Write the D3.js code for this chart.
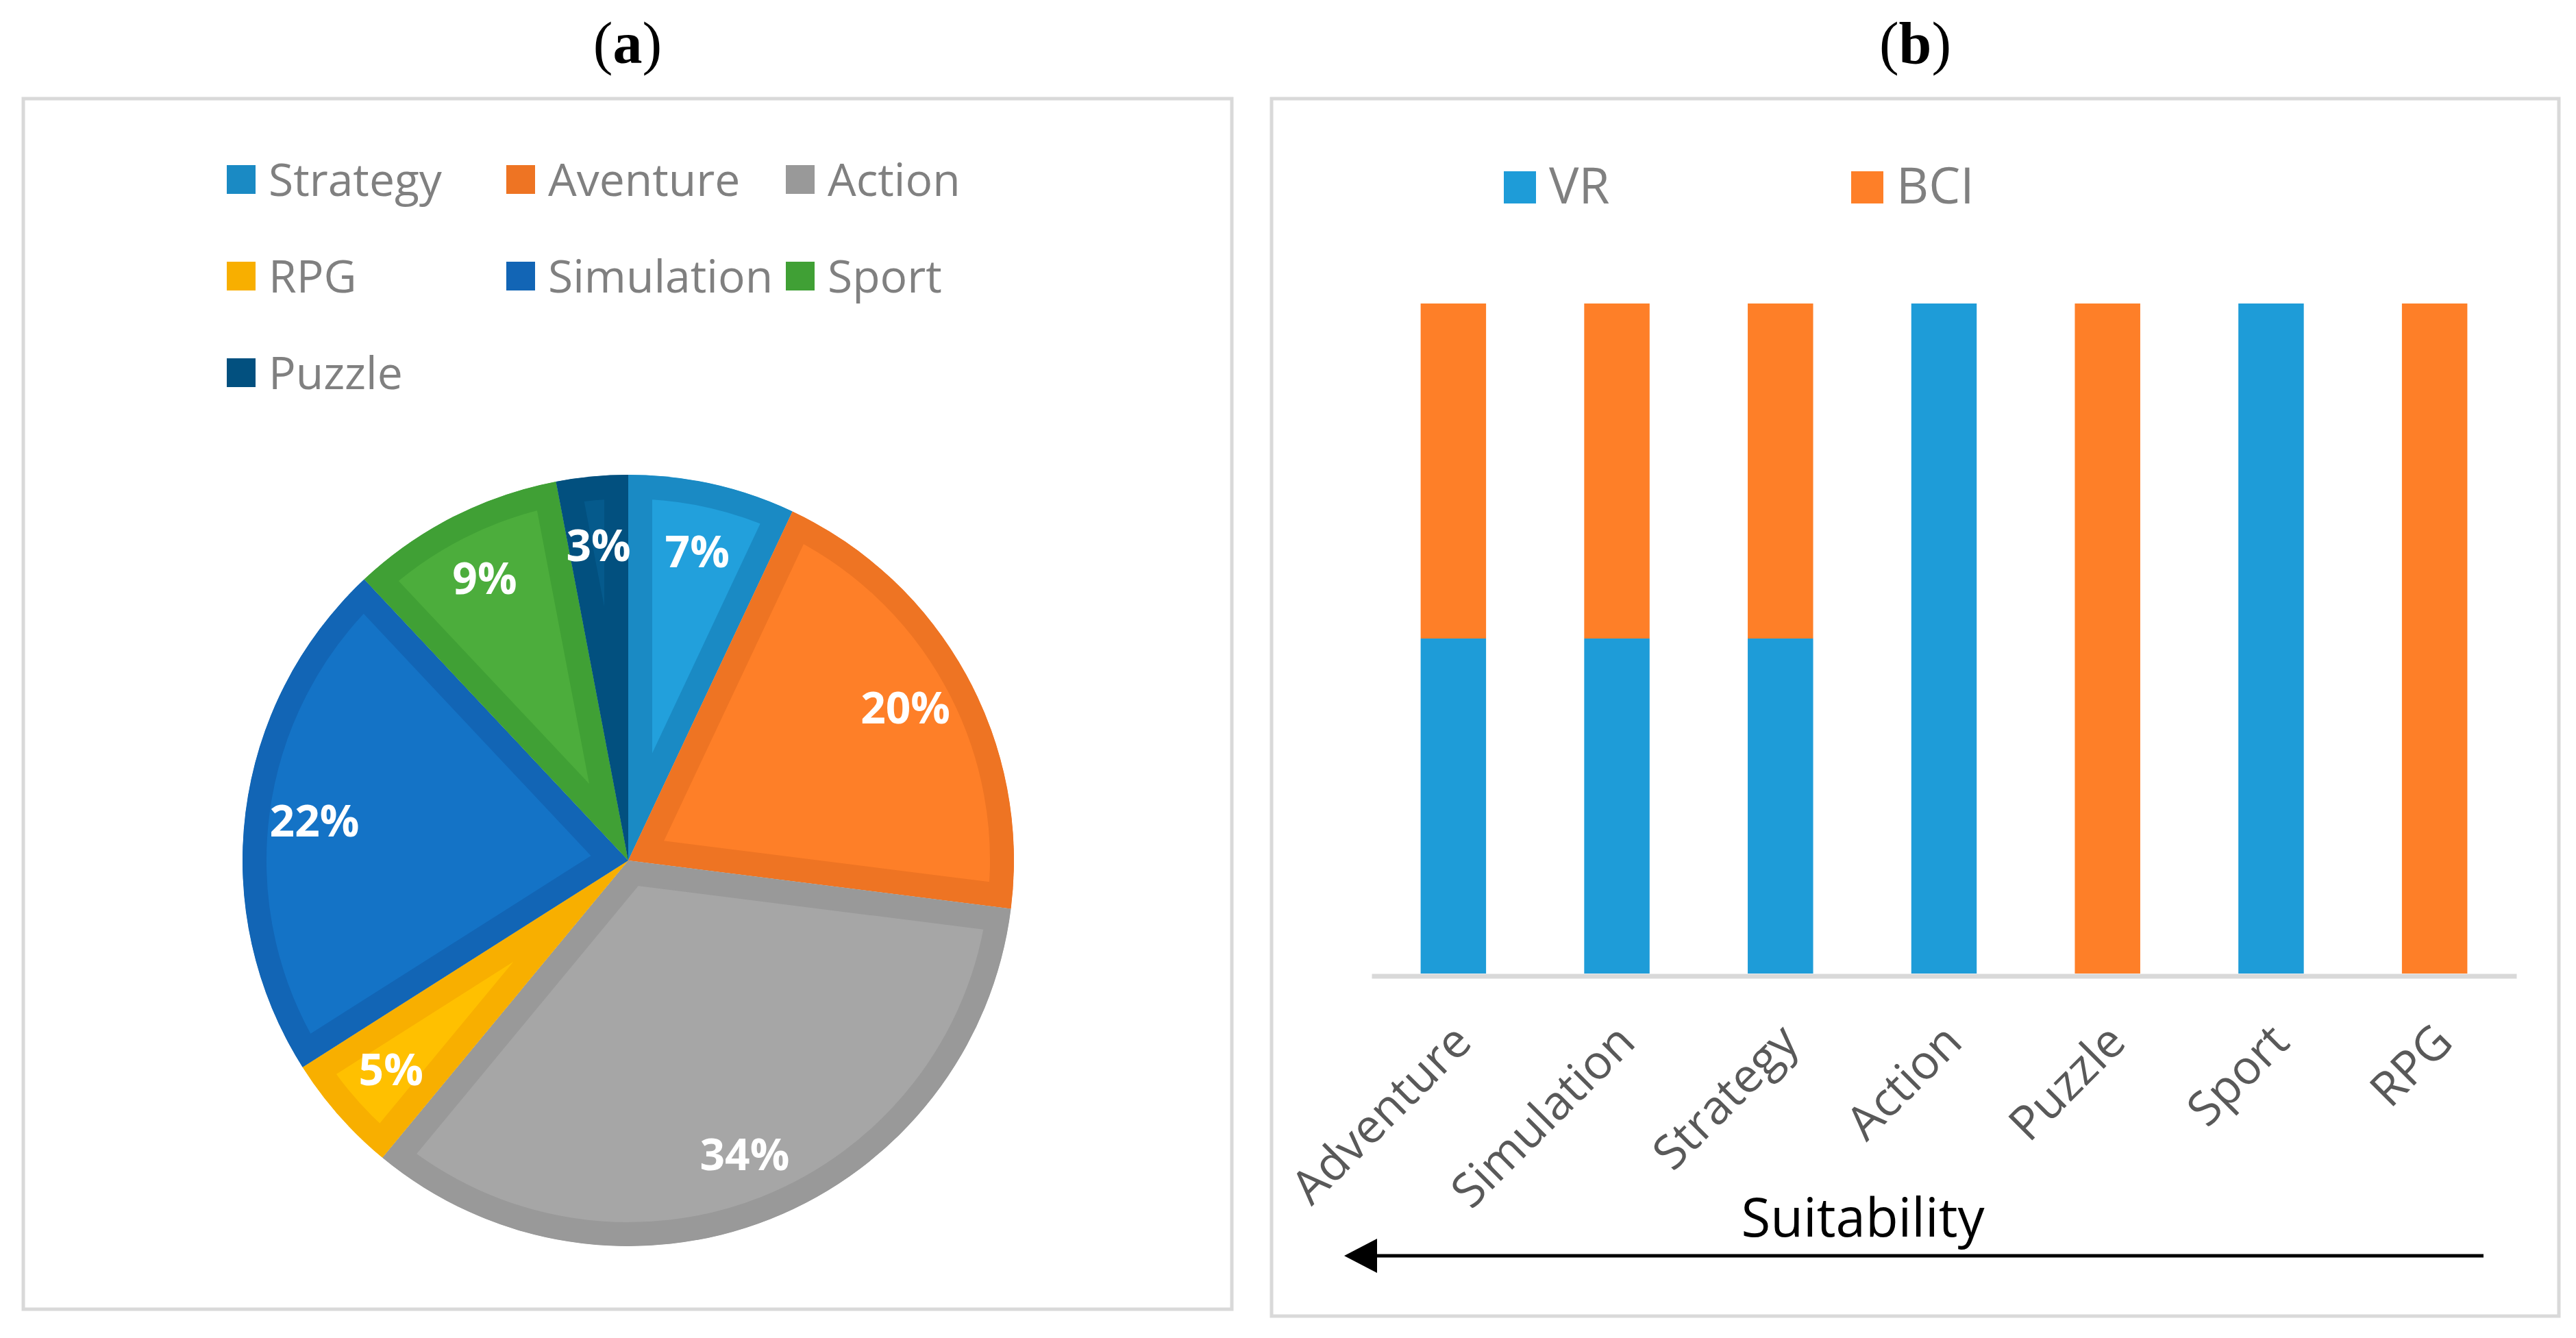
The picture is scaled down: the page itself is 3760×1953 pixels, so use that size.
<!DOCTYPE html>
<html>
<head>
<meta charset="utf-8">
<script src="https://cdn.jsdelivr.net/npm/d3@7"></script>
<style>
  html, body { margin: 0; padding: 0; background: #ffffff; }
  svg { display: block; }
</style>
</head>
<body>
<script>
// ---------------- DATA ----------------
const pieCategories = ["Strategy", "Aventure", "Action", "RPG", "Simulation", "Sport", "Puzzle"];
const pieValues     = [7, 20, 34, 5, 22, 9, 3];
const pieInnerColors = ["#22a0dc", "#fe7f28", "#a6a6a6", "#ffc000", "#1473c6", "#4cad3c", "#055a8c"];
const pieBandColors  = ["#1a8ac4", "#ee7423", "#999999", "#f8af00", "#1265b5", "#40a035", "#02507f"];

const barCategories = ["Adventure", "Simulation", "Strategy", "Action", "Puzzle", "Sport", "RPG"];
const vrValues  = [1, 1, 1, 1, 0, 1, 0];
const bciValues = [1, 1, 1, 0, 1, 0, 1];
const barSeries = ["VR", "BCI"];
const barColors = ["#1e9cd8", "#fe7f28"];

const panelTitles = ["a", "b"];
const axisTitle = "Suitability";

// ---------------- SETUP ----------------
const W = 3760, H = 1953;
const svg = d3.select("body").append("svg").attr("width", W).attr("height", H);
const sans = "'Open Sans', 'Noto Sans', sans-serif";

// panel frames
const frames = [
  {x0: 34, y0: 144, x1: 1798, y1: 1911},
  {x0: 1856, y0: 144, x1: 3735, y1: 1921}
];
frames.forEach((f, i) => {
  svg.append("rect")
    .attr("x", f.x0).attr("y", f.y0)
    .attr("width", f.x1 - f.x0).attr("height", f.y1 - f.y0)
    .attr("fill", "none").attr("stroke", "#d9d9d9").attr("stroke-width", 5);
  const t = svg.append("text")
    .attr("x", (f.x0 + f.x1) / 2).attr("y", 92)
    .attr("text-anchor", "middle")
    .attr("font-family", "'Liberation Serif', 'Times New Roman', serif")
    .attr("font-size", 86).attr("fill", "#000");
  t.append("tspan").text("(");
  t.append("tspan").attr("font-weight", "bold").text(panelTitles[i]);
  t.append("tspan").text(")");
});

// ---------------- PANEL (a): PIE ----------------
const cx = 917, cy = 1256, R = 563;
const pieG = svg.append("g").attr("transform", `translate(${cx},${cy})`);
const pie = d3.pie().sort(null).value(d => d)(pieValues);
const arc = d3.arc().innerRadius(0).outerRadius(R);
const defs = svg.append("defs");

pie.forEach((p, i) => {
  defs.append("clipPath").attr("id", "clip" + i)
    .append("path").attr("d", arc(p));
  pieG.append("path")
    .attr("d", arc(p))
    .attr("fill", pieInnerColors[i])
    .attr("stroke", pieBandColors[i])
    .attr("stroke-width", 70)
    .attr("stroke-linejoin", "miter")
    .attr("stroke-miterlimit", 50)
    .attr("clip-path", `url(#clip${i})`);
});

const labelArc = d3.arc().innerRadius(R * 0.82).outerRadius(R * 0.82);
pie.forEach((p, i) => {
  const [lx, ly] = labelArc.centroid(p);
  pieG.append("text")
    .attr("x", lx).attr("y", ly)
    .attr("dy", "0.35em")
    .attr("text-anchor", "middle")
    .attr("font-family", sans).attr("font-weight", "bold")
    .attr("font-size", 64).attr("fill", "#ffffff")
    .text(p.data + "%");
});

// legend (a)
const legCols = [331, 739, 1147];
const legRows = [286, 427, 568];
pieCategories.forEach((c, i) => {
  const col = i % 3, row = Math.floor(i / 3);
  const g = svg.append("g");
  g.append("rect")
    .attr("x", legCols[col]).attr("y", legRows[row] - 45)
    .attr("width", 42).attr("height", 42)
    .attr("fill", pieBandColors[i]);
  g.append("text")
    .attr("x", legCols[col] + 61).attr("y", legRows[row])
    .attr("font-family", sans).attr("font-size", 66)
    .attr("fill", "#808080")
    .text(c);
});

// ---------------- PANEL (b): 100% STACKED BARS ----------------
const axisY = 1421, topY = 443;
const x = d3.scaleBand().domain(barCategories).range([2002, 3673])
  .paddingInner(0.6).paddingOuter(0.3);
const y = d3.scaleLinear().domain([0, 1]).range([axisY, topY]);

const rows = barCategories.map((c, i) => {
  const tot = vrValues[i] + bciValues[i];
  return {cat: c, VR: vrValues[i] / tot, BCI: bciValues[i] / tot};
});
const stack = d3.stack().keys(barSeries)(rows);

const barG = svg.append("g");
stack.forEach((s, si) => {
  barG.selectAll(null).data(s).enter().append("rect")
    .attr("x", d => x(d.data.cat))
    .attr("width", x.bandwidth())
    .attr("y", d => y(d[1]))
    .attr("height", d => y(d[0]) - y(d[1]))
    .attr("fill", barColors[si]);
});

// x axis
const xAxis = d3.axisBottom(x).tickSize(0).tickSizeOuter(0);
const axG = svg.append("g").attr("transform", `translate(0,${axisY + 3.5})`).call(xAxis);
axG.select(".domain").attr("stroke", "#d9d9d9").attr("stroke-width", 7);
axG.selectAll(".tick text")
  .attr("font-family", sans).attr("font-size", 69).attr("fill", "#595959")
  .attr("text-anchor", "end")
  .attr("y", 0).attr("dy", 0)
  .attr("transform", "translate(30,100) rotate(-45)");

// legend (b)
const legBX = [2195, 2702];
barSeries.forEach((s, i) => {
  svg.append("rect")
    .attr("x", legBX[i]).attr("y", 250)
    .attr("width", 47).attr("height", 47)
    .attr("fill", barColors[i]);
  svg.append("text")
    .attr("x", legBX[i] + 66).attr("y", 297)
    .attr("font-family", sans).attr("font-size", 73)
    .attr("fill", "#808080")
    .text(s);
});

// axis title + arrow
const [rx0, rx1] = x.range();
svg.append("text")
  .attr("x", 2719).attr("y", 1805)
  .attr("text-anchor", "middle")
  .attr("font-family", sans).attr("font-size", 78).attr("fill", "#000")
  .text(axisTitle);

const arrowY = 1833;
svg.append("line")
  .attr("x1", rx1 - 48).attr("x2", rx0 - 30)
  .attr("y1", arrowY).attr("y2", arrowY)
  .attr("stroke", "#000").attr("stroke-width", 5);
svg.append("path")
  .attr("d", d3.line()([[rx0 - 40, arrowY], [rx0 + 8, arrowY - 25], [rx0 + 8, arrowY + 25]]) + "Z")
  .attr("fill", "#000");
</script>
</body>
</html>
